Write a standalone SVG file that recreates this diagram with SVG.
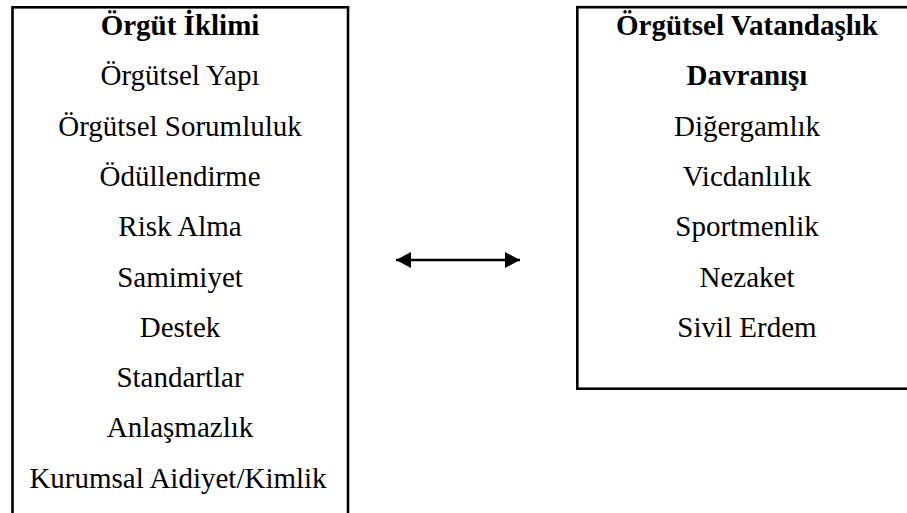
<svg xmlns="http://www.w3.org/2000/svg" width="907" height="513" viewBox="0 0 907 513">
<style>
.box{fill:none;stroke:#000;stroke-width:2.6}
.t{font-family:"Liberation Serif","Times New Roman",serif;font-size:29px;fill:#000;text-anchor:middle}
.b{font-weight:bold}
.conn{stroke:#000;stroke-width:2.5;fill:none}
</style>
<defs>
<marker id="ah" viewBox="0 0 15 16" refX="15" refY="8" markerWidth="15" markerHeight="16" markerUnits="userSpaceOnUse" orient="auto-start-reverse">
<path d="M0,0 L15,8 L0,16 Z" fill="#000"/>
</marker>
</defs>
<g id="orgut-iklimi">
<rect class="box" x="12.5" y="7.3" width="335.5" height="530"/>
<text class="t b" x="180" y="35">Örgüt İklimi</text>
<text class="t" x="180" y="85.3">Örgütsel Yapı</text>
<text class="t" x="180" y="135.6">Örgütsel Sorumluluk</text>
<text class="t" x="180" y="186">Ödüllendirme</text>
<text class="t" x="180" y="236.2">Risk Alma</text>
<text class="t" x="180" y="286.5">Samimiyet</text>
<text class="t" x="180" y="336.8">Destek</text>
<text class="t" x="180" y="387.1">Standartlar</text>
<text class="t" x="180" y="437.4">Anlaşmazlık</text>
<text class="t" x="178" y="487.7">Kurumsal Aidiyet/Kimlik</text>
</g>
<g id="orgutsel-vatandaslik">
<rect class="box" x="577.3" y="7.2" width="340" height="381.5"/>
<text class="t b" x="747" y="35">Örgütsel Vatandaşlık</text>
<text class="t b" x="747" y="85.3">Davranışı</text>
<text class="t" x="747" y="135.6">Diğergamlık</text>
<text class="t" x="747" y="186">Vicdanlılık</text>
<text class="t" x="747" y="236.2">Sportmenlik</text>
<text class="t" x="747" y="286.5">Nezaket</text>
<text class="t" x="747" y="336.8">Sivil Erdem</text>
</g>
<g id="connectors">
<line class="conn" x1="396" y1="260" x2="520" y2="260" marker-start="url(#ah)" marker-end="url(#ah)"/>
</g>
</svg>
